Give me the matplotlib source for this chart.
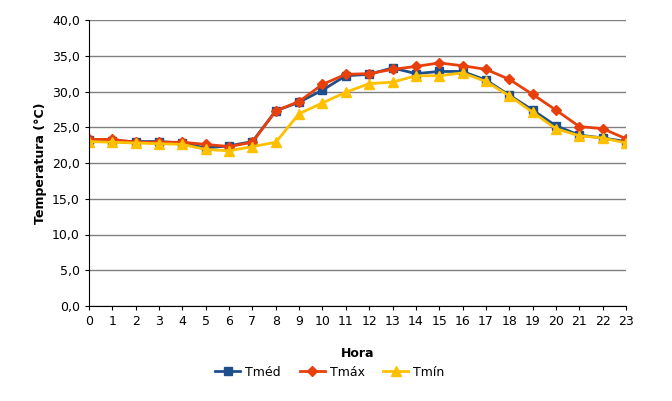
import numpy as np
import matplotlib.pyplot as plt

horas = list(range(24))
tmed = [23.2, 23.1, 23.0, 23.0, 22.8, 22.1, 22.4, 23.0, 27.3, 28.5, 30.2, 32.2,
        32.4, 33.3, 32.5, 32.8, 32.8, 31.6, 29.5, 27.4, 25.2, 23.9, 23.5, 23.0]
tmax = [23.3, 23.3, 22.9, 22.9, 22.9, 22.6, 22.3, 22.9, 27.3, 28.6, 31.0, 32.4,
        32.5, 33.1, 33.5, 34.0, 33.6, 33.1, 31.7, 29.6, 27.4, 25.1, 24.8, 23.4]
tmin = [23.0, 22.9, 22.8, 22.7, 22.6, 21.9, 21.7, 22.3, 22.9, 26.9, 28.4, 29.9,
        31.1, 31.3, 32.2, 32.2, 32.6, 31.4, 29.4, 27.1, 24.8, 23.8, 23.5, 22.8]

plt.rcParams['font.family'] = ['DejaVu Sans']
fig = plt.figure(figsize=(6.72, 4.01), dpi=100)
ax = fig.add_axes([89/672, 1-306/401, (626-89)/672, (306-20)/401])

ax.plot(horas, tmed, color='#1F4E8C', marker='s', markersize=6, lw=2, label='Tméd')
ax.plot(horas, tmax, color='#E8400C', marker='D', markersize=5.5, lw=2, label='Tmáx')
ax.plot(horas, tmin, color='#FFC000', marker='^', markersize=7, lw=2, label='Tmín')

ax.set_xlim(0, 23)
ax.set_ylim(0, 40)
ax.set_xticks(horas)
ax.set_yticks(np.arange(0, 41, 5))
ax.set_yticklabels([f'{v:.1f}'.replace('.', ',') for v in np.arange(0, 41, 5)])
ax.tick_params(labelsize=9, length=3)
ax.yaxis.grid(True, color='#808080', lw=1)
ax.set_axisbelow(True)
for s in ['top', 'right']:
    ax.spines[s].set_visible(False)
ax.set_xlabel('Hora', fontweight='bold', fontsize=9, labelpad=14)
ax.set_ylabel('Temperatura (°C)', fontweight='bold', fontsize=9)
fig.legend(loc='center', bbox_to_anchor=(330/672, 1-372/401), ncol=3, frameon=False,
           fontsize=9, handlelength=2.0, handletextpad=0.4, columnspacing=1.5)
fig.savefig('out.png', dpi=100)
